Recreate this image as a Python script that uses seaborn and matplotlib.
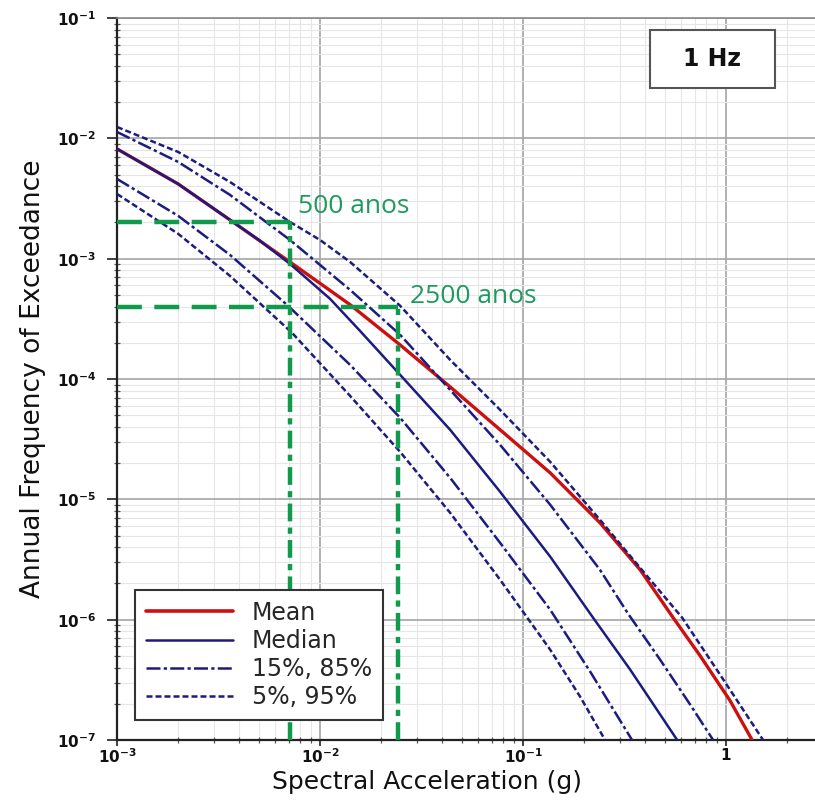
import numpy as np
import pandas as pd
import matplotlib
matplotlib.use("Agg")
import matplotlib.pyplot as plt
import seaborn as sns
from matplotlib.lines import Line2D
from matplotlib.patches import Rectangle
from matplotlib.ticker import LogLocator, FuncFormatter, NullFormatter

# ---- data (Spectral acceleration in g, annual frequency of exceedance) ----
mean_sa = [0.001, 0.002, 0.0036, 0.0071, 0.0141, 0.0248, 0.0437, 0.077, 0.136, 0.239, 0.377, 0.548, 0.744, 1.046, 1.343]
mean_afe = [8.17e-3, 4.18e-3, 2.10e-3, 9.40e-4, 4.13e-4, 1.92e-4, 8.61e-5, 3.79e-5, 1.66e-5, 6.39e-6, 2.60e-6, 1.04e-6, 5.02e-7, 2.12e-7, 1.0e-7]

median_sa = [0.001, 0.002, 0.0036, 0.00506, 0.00711, 0.0112, 0.01574, 0.0248, 0.0437, 0.077, 0.136, 0.221, 0.337, 0.574]
median_afe = [8.17e-3, 4.18e-3, 2.10e-3, 1.41e-3, 9.05e-4, 4.64e-4, 2.51e-4, 1.083e-4, 3.79e-5, 1.157e-5, 3.34e-6, 1.04e-6, 3.84e-7, 1.0e-7]

p85_sa = [0.001, 0.002, 0.0036, 0.00711, 0.01405, 0.0248, 0.0437, 0.077, 0.136, 0.239, 0.329, 0.473, 0.665, 0.863]
p85_afe = [1.13e-2, 6.37e-3, 3.39e-3, 1.43e-3, 5.51e-4, 2.33e-4, 8.13e-5, 2.84e-5, 9.02e-6, 2.60e-6, 1.12e-6, 4.65e-7, 1.97e-7, 1.0e-7]

p95_sa = [0.001, 0.002, 0.0036, 0.00711, 0.0100, 0.01405, 0.0248, 0.0437, 0.077, 0.136, 0.239, 0.377, 0.607, 0.934, 1.52]
p95_afe = [1.243e-2, 7.71e-3, 4.34e-3, 2.02e-3, 1.43e-3, 9.40e-4, 4.06e-4, 1.444e-4, 5.55e-5, 2.05e-5, 6.77e-6, 2.70e-6, 1.04e-6, 3.49e-7, 1.0e-7]

p15_sa = [0.001, 0.002, 0.0036, 0.00688, 0.01405, 0.0248, 0.0437, 0.077, 0.136, 0.214, 0.344]
p15_afe = [4.60e-3, 2.27e-3, 1.075e-3, 4.13e-4, 1.312e-4, 4.76e-5, 1.511e-5, 4.36e-6, 1.21e-6, 3.70e-7, 1.0e-7]

p5_sa = [0.001, 0.002, 0.0036, 0.00728, 0.01405, 0.0248, 0.0437, 0.077, 0.136, 0.191, 0.2534]
p5_afe = [3.45e-3, 1.61e-3, 7.20e-4, 2.42e-4, 7.25e-5, 2.48e-5, 7.74e-6, 2.15e-6, 5.63e-7, 2.29e-7, 1.0e-7]

# return-period guide lines (500 and 2500 years)
guide_labels = ["500 anos", "2500 anos"]
guide_afe = [2.0e-3, 4.0e-4]
guide_sa = [0.0071, 0.0242]

legend_labels = ["Mean", "Median", "15%, 85%", "5%, 95%"]
x_ticks = [1e-3, 1e-2, 1e-1, 1]
y_ticks = [1e-7, 1e-6, 1e-5, 1e-4, 1e-3, 1e-2, 1e-1]

# ---- style ----
sns.set_style("white")
plt.rcParams["font.family"] = ["DejaVu Sans"]
plt.rcParams["mathtext.fontset"] = "dejavusans"

RED = "#cc1010"
NAVY = "#1c1c80"
GREEN = "#129a4c"
DASHDOT = (5.6, 1.3, 1.3, 1.3)
DASHED = (2.4, 1.2)

fig = plt.figure(figsize=(8.15, 8.02), dpi=100)
ax = fig.add_axes([117 / 815, 62 / 802, 706 / 815, 722 / 802])
ax.set_xscale("log")
ax.set_yscale("log")
ax.set_xlim(1e-3, 3.0)
ax.set_ylim(1e-7, 1e-1)

ax.xaxis.set_major_locator(LogLocator(base=10, numticks=20))
ax.yaxis.set_major_locator(LogLocator(base=10, numticks=20))
ax.xaxis.set_minor_locator(LogLocator(base=10, subs=np.arange(2, 10), numticks=100))
ax.yaxis.set_minor_locator(LogLocator(base=10, subs=np.arange(2, 10), numticks=100))
ax.grid(which="major", color="#a4a4a4", lw=1.2, zorder=0)
ax.grid(which="minor", color="#e6e6e6", lw=0.8, zorder=0)
ax.set_axisbelow(True)


def fmt_x(v, pos):
    e = int(round(np.log10(v)))
    if e == 0:
        return r"$\mathbf{1}$"
    return r"$\mathbf{10^{%d}}$" % e


def fmt_y(v, pos):
    e = int(round(np.log10(v)))
    return r"$\mathbf{10^{%d}}$" % e


ax.set_xticks(x_ticks)
ax.set_yticks(y_ticks)
ax.xaxis.set_major_formatter(FuncFormatter(fmt_x))
ax.yaxis.set_major_formatter(FuncFormatter(fmt_y))
ax.xaxis.set_minor_formatter(NullFormatter())
ax.yaxis.set_minor_formatter(NullFormatter())
ax.tick_params(which="major", direction="out", width=1.2, labelsize=11,
               color="#222222", labelcolor="#111111", left=True, bottom=True)
ax.tick_params(axis="x", which="major", length=4, pad=1)
ax.tick_params(axis="y", which="major", length=7, pad=8)
ax.tick_params(which="minor", direction="inout", length=4, width=0.9, color="#555555",
               left=True, bottom=True)

for s in ["left", "bottom"]:
    ax.spines[s].set_color("#222222")
    ax.spines[s].set_linewidth(1.6)
ax.spines["top"].set_color("#8a8a8a")
ax.spines["top"].set_linewidth(1.2)
ax.spines["right"].set_visible(False)

# ---- curves ----
series = [
    (mean_sa, mean_afe, RED, None, 2.4),
    (median_sa, median_afe, NAVY, None, 1.8),
    (p85_sa, p85_afe, NAVY, DASHDOT, 1.8),
    (p15_sa, p15_afe, NAVY, DASHDOT, 1.8),
    (p95_sa, p95_afe, NAVY, DASHED, 1.8),
    (p5_sa, p5_afe, NAVY, DASHED, 1.8),
]
for sa, afe, col, dash, lw in series:
    df = pd.DataFrame({"sa": sa, "afe": afe})
    sns.lineplot(data=df, x="sa", y="afe", ax=ax, color=col, lw=lw,
                 sort=False, estimator=None, legend=False, zorder=3)
    if dash is not None:
        ax.lines[-1].set_dashes(dash)

# ---- return-period guides ----
for lab, yv, xv in zip(guide_labels, guide_afe, guide_sa):
    hdf = pd.DataFrame({"sa": [1e-3, xv], "afe": [yv, yv]})
    sns.lineplot(data=hdf, x="sa", y="afe", ax=ax, color=GREEN, lw=3.2,
                 sort=False, estimator=None, legend=False, zorder=4)
    ax.lines[-1].set_dashes((5.6, 2.8))
    vdf = pd.DataFrame({"sa": [xv, xv], "afe": [1e-7, yv]})
    sns.lineplot(data=vdf, x="sa", y="afe", ax=ax, color=GREEN, lw=3.2,
                 sort=False, estimator=None, legend=False, zorder=4)
    ax.lines[-1].set_dashes((4.0, 1.4, 1.4, 1.4))

ax.text(7.8e-3, 2.69e-3, guide_labels[0], color="#1d9a5c", fontsize=19,
        family="Open Sans", va="center", ha="left", zorder=5)
ax.text(2.77e-2, 4.82e-4, guide_labels[1], color="#1d9a5c", fontsize=19,
        family="Open Sans", va="center", ha="left", zorder=5)

# ---- legend ----
handles = [
    Line2D([], [], color=RED, lw=2.6),
    Line2D([], [], color=NAVY, lw=1.8),
    Line2D([], [], color=NAVY, lw=1.8, dashes=DASHDOT),
    Line2D([], [], color=NAVY, lw=1.8, dashes=DASHED),
]
leg = ax.legend(handles, legend_labels, loc="lower left",
                bbox_to_anchor=((135 - 117) / 706, (740 - 720) / 722),
                borderaxespad=0, fontsize=17, handlelength=3.7, handletextpad=0.8,
                labelspacing=0.18, borderpad=0.45, frameon=True, fancybox=False,
                framealpha=1, edgecolor="#333333")
leg.get_frame().set_linewidth(1.5)
leg.set_zorder(6)

# ---- frequency box ----
ax.add_patch(Rectangle(((650 - 117) / 706, 1 - (88 - 18) / 722), 125 / 706, 58 / 722,
                       transform=ax.transAxes, facecolor="white", edgecolor="#555555",
                       lw=1.5, zorder=6))
ax.text((712 - 117) / 706, 1 - (59 - 18) / 722, "1 Hz", transform=ax.transAxes,
        fontsize=17, fontweight="bold", ha="center", va="center", color="#111111", zorder=7)

ax.set_xlabel("Spectral Acceleration (g)", fontsize=18, color="#111111")
ax.xaxis.set_label_coords((427 - 117) / 706, -(770 - 740) / 722)
ax.set_ylabel("Annual Frequency of Exceedance", fontsize=19, labelpad=8, color="#111111")

fig.savefig("out.png", dpi=100)
